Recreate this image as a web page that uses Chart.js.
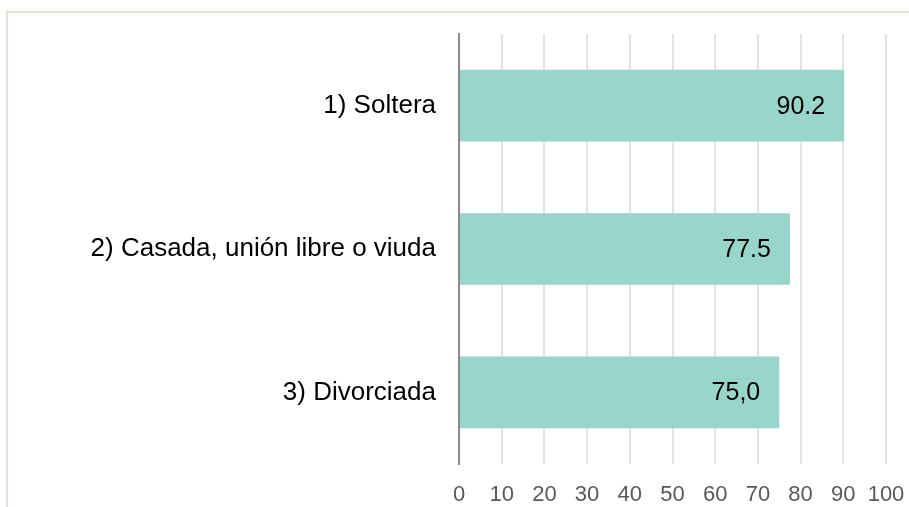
<!DOCTYPE html>
<html>
<head>
<meta charset="utf-8">
<script src="https://cdn.jsdelivr.net/npm/chart.js@4/dist/chart.umd.min.js"></script>
<style>
  html, body { margin: 0; padding: 0; background: #fff; overflow: hidden; }
  #caja { position: relative; width: 909px; height: 507px; }
  #marco {
    position: absolute; left: 6px; top: 11px; right: -10px; bottom: -10px;
    border-left: 2px solid #e6e2d2; border-top: 2px solid #e6e2d2;
  }
  #grafica { position: absolute; left: 0; top: 0; }
</style>
</head>
<body>
<div id="caja">
  <div id="marco"></div>
  <canvas id="grafica" width="909" height="507"></canvas>
</div>
<script>
// Datos
const categorias = ["1) Soltera", "2) Casada, unión libre o viuda", "3) Divorciada"];
const valores = [90.2, 77.5, 75.0];
const etiquetas = ["90.2", "77.5", "75,0"];
const ticksX = [0, 10, 20, 30, 40, 50, 60, 70, 80, 90, 100];

const FUENTE = "'Liberation Sans', Arial, sans-serif";

// Etiquetas dentro del final de cada barra
const etiquetasBarras = {
  id: "etiquetasBarras",
  afterDatasetsDraw(chart) {
    const ctx = chart.ctx;
    const meta = chart.getDatasetMeta(0);
    ctx.save();
    ctx.font = "25px " + FUENTE;
    ctx.fillStyle = "#000";
    ctx.textAlign = "right";
    ctx.textBaseline = "middle";
    meta.data.forEach((barra, i) => {
      ctx.fillText(etiquetas[i], barra.x - 19, barra.y + 1);
    });
    ctx.restore();
  }
};

new Chart(document.getElementById("grafica"), {
  type: "bar",
  data: {
    labels: categorias,
    datasets: [{
      data: valores,
      backgroundColor: "#98d5cb",
      borderWidth: 0,
      barPercentage: 0.5,
      categoryPercentage: 1
    }]
  },
  options: {
    indexAxis: "y",
    responsive: false,
    animation: false,
    layout: { padding: { top: 34, right: 23, left: 0, bottom: 0 } },
    plugins: {
      legend: { display: false },
      tooltip: { enabled: false }
    },
    scales: {
      x: {
        min: 0,
        max: 100,
        afterBuildTicks(scale) {
          scale.ticks = ticksX.map((v) => ({ value: v }));
        },
        afterFit(scale) {
          scale.height = 43;
          scale.paddingLeft = 0;
          scale.paddingRight = 0;
        },
        grid: { color: "#e3e3e3", lineWidth: 2, drawTicks: false },
        border: { display: false },
        ticks: {
          color: "#595959",
          padding: 18,
          maxRotation: 0,
          autoSkip: false,
          font: { family: FUENTE, size: 22 }
        }
      },
      y: {
        afterFit(scale) {
          scale.width = 459;
          scale.paddingTop = 0;
          scale.paddingBottom = 0;
        },
        grid: { display: false, drawTicks: false },
        border: { display: true, color: "#8c8c8c", width: 2 },
        ticks: {
          color: "#000",
          padding: 23,
          font: { family: FUENTE, size: 26 }
        }
      }
    }
  },
  plugins: [etiquetasBarras]
});
</script>
</body>
</html>
